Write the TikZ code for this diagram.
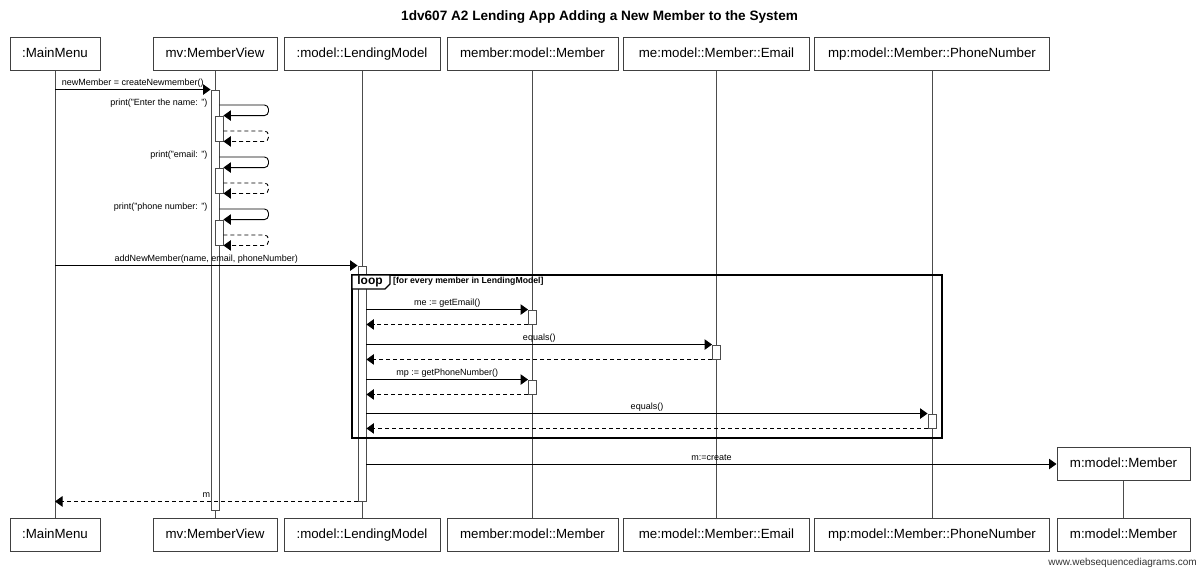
\documentclass[tikz,border=0pt]{standalone}
\usepackage{fontspec}
\setmainfont{Liberation Sans}
\usetikzlibrary{arrows.meta}
\tikzset{
  obj/.style={draw=black!75, line width=1pt, fill=white, minimum height=33pt, inner sep=0pt, text height=9.8pt, text depth=2.8pt, font=\fontsize{13.3}{15}\selectfont},
  life/.style={draw=black!70, line width=0.9pt},
  act/.style={draw=black!70, fill=white, line width=0.9pt, minimum width=8pt, inner sep=0pt},
  msg/.style={line width=0.9pt, -{Triangle[length=7.5pt,width=10.5pt]}},
  ret/.style={msg, dash pattern=on 4pt off 3pt},
  lbl/.style={font=\fontsize{9}{10}\selectfont, inner sep=1.5pt, text height=6.6pt, text depth=2pt},
  frm/.style={line width=1.6pt},
}
\begin{document}
\begin{tikzpicture}[x=1pt,y=-1pt]
\fill[white] (0,0) rectangle (1200,574);
\useasboundingbox (0,0) rectangle (1200,574);

% title
\node[anchor=west, font=\bfseries\fontsize{13.6}{15}\selectfont, inner sep=0pt] (title) at (401,17) {1dv607 A2 Lending App Adding a New Member to the System};

% top participants
\node[obj, minimum width=90pt]  (mmT)  at (55,53.5)    {:MainMenu};
\node[obj, minimum width=124pt] (mvT)  at (215,53.5)   {mv:MemberView};
\node[obj, minimum width=156pt] (lmT)  at (362,53.5)   {:model::LendingModel};
\node[obj, minimum width=171pt] (memT) at (532.5,53.5) {member:model::Member};
\node[obj, minimum width=186pt] (emT)  at (716.5,53.5) {me:model::Member::Email};
\node[obj, minimum width=235pt] (mpT)  at (932,53.5)   {mp:model::Member::PhoneNumber};

% bottom participants
\node[obj, minimum width=90pt]  (mmB)  at (55,535)    {:MainMenu};
\node[obj, minimum width=124pt] (mvB)  at (215,535)   {mv:MemberView};
\node[obj, minimum width=156pt] (lmB)  at (362,535)   {:model::LendingModel};
\node[obj, minimum width=171pt] (memB) at (532.5,535) {member:model::Member};
\node[obj, minimum width=186pt] (emB)  at (716.5,535) {me:model::Member::Email};
\node[obj, minimum width=235pt] (mpB)  at (932,535)   {mp:model::Member::PhoneNumber};
\node[obj, minimum width=133pt] (mB)   at (1123.5,535) {m:model::Member};

% lifelines
\draw[life] (mmT.south) -- (mmB.north);
\draw[life] (mvT.south) -- (mvB.north);
\draw[life] (lmT.south) -- (lmB.north);
\draw[life] (memT.south) -- (memB.north);
\draw[life] (emT.south) -- (emB.north);
\draw[life] (mpT.south) -- (mpB.north);

% created participant
\node[obj, minimum width=133pt] (mT) at (1123.5,464) {m:model::Member};
\draw[life] (mT.south) -- (mB.north);

% activations
\node[act, minimum height=420pt] (aMV)  at (215,300) {};
\node[act, minimum height=25pt]  (aS1)  at (219,128.5) {};
\node[act, minimum height=25pt]  (aS2)  at (219,180.5) {};
\node[act, minimum height=25pt]  (aS3)  at (219,232.5) {};
\node[act, minimum height=235pt] (aLM)  at (362,383.5) {};
\node[act, minimum height=14pt]  (aMem1) at (532.5,317) {};
\node[act, minimum height=14pt]  (aEm)   at (716.5,352) {};
\node[act, minimum height=14pt]  (aMem2) at (532.5,387) {};
\node[act, minimum height=14pt]  (aMp)   at (932,421) {};

% createNewmember
\draw[msg] (mmT.south |- aMV.north) -- node[lbl, above] {newMember = createNewmember()} (aMV.north west);

% self calls
\node[lbl, anchor=east] (p1) at (209,103) {print("Enter the name: ")};
\draw[msg, rounded corners=4pt] (aMV.east |- 0,105) -- ++(49,0) |- (aS1.north east);
\draw[ret, rounded corners=4pt] (aS1.east |- 0,131) -- ++(45,0) |- (aS1.south east);

\node[lbl, anchor=east] (p2) at (209,155) {print("email: ")};
\draw[msg, rounded corners=4pt] (aMV.east |- 0,157) -- ++(49,0) |- (aS2.north east);
\draw[ret, rounded corners=4pt] (aS2.east |- 0,183) -- ++(45,0) |- (aS2.south east);

\node[lbl, anchor=east] (p3) at (209,207) {print("phone number: ")};
\draw[msg, rounded corners=4pt] (aMV.east |- 0,209) -- ++(49,0) |- (aS3.north east);
\draw[ret, rounded corners=4pt] (aS3.east |- 0,235) -- ++(45,0) |- (aS3.south east);

% addNewMember
\draw[msg] (mmT.south |- aLM.north) -- node[lbl, above] {addNewMember(name, email, phoneNumber)} (aLM.north west);

% loop messages
\draw[msg] (aLM.east |- aMem1.north) -- node[lbl, above] {me := getEmail()} (aMem1.north west);
\draw[ret] (aMem1.south west) -- (aLM.east |- aMem1.south);
\draw[msg] (aLM.east |- aEm.north) -- node[lbl, above] {equals()} (aEm.north west);
\draw[ret] (aEm.south west) -- (aLM.east |- aEm.south);
\draw[msg] (aLM.east |- aMem2.north) -- node[lbl, above] {mp := getPhoneNumber()} (aMem2.north west);
\draw[ret] (aMem2.south west) -- (aLM.east |- aMem2.south);
\draw[msg] (aLM.east |- aMp.north) -- node[lbl, above] {equals()} (aMp.north west);
\draw[ret] (aMp.south west) -- (aLM.east |- aMp.south);

% loop frame
\coordinate (fTL) at (352,275);
\coordinate (fBR) at (942,438);
\draw[frm] (fTL) rectangle (fBR);
\draw[line width=1.2pt, fill=white] (fTL) -- ++(38,0) -- ++(0,9) -- ++(-5,5) -- ++(-33,0) -- cycle;
\node[font=\bfseries\fontsize{12}{12}\selectfont, inner sep=0pt] (looplbl) at (370,281.5) {loop};
\node[anchor=west, font=\bfseries\fontsize{8.7}{9}\selectfont, inner sep=0pt] (guard) at (393,281) {[for every member in LendingModel]};

% create
\draw[msg] (aLM.east |- mT.west) -- node[lbl, above] {m:=create} (mT.west);

% return m
\draw[ret] (aLM.south west) -- node[lbl, above] {m} (mmT.south |- aLM.south);

% footer
\node[anchor=east, font=\fontsize{10}{11}\selectfont, text=black!80, inner sep=0pt] (foot) at (1197,563) {www.websequencediagrams.com};
\end{tikzpicture}
\end{document}
